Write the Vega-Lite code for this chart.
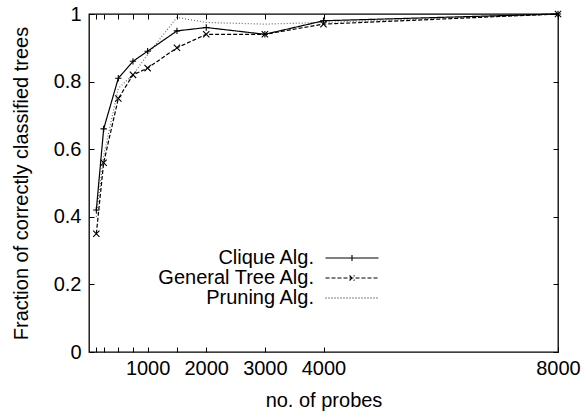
{
  "$schema": "https://vega.github.io/schema/vega-lite/v6.json",
  "width": 469,
  "height": 338,
  "autosize": {"type": "none"},
  "padding": {"left": 89, "top": 14, "right": 24, "bottom": 65},
  "background": "white",
  "data": {
    "values": [
      {"series": "Clique Alg.", "probes": 125, "frac": 0.42},
      {"series": "Clique Alg.", "probes": 250, "frac": 0.66},
      {"series": "Clique Alg.", "probes": 500, "frac": 0.81},
      {"series": "Clique Alg.", "probes": 750, "frac": 0.86},
      {"series": "Clique Alg.", "probes": 1000, "frac": 0.89},
      {"series": "Clique Alg.", "probes": 1500, "frac": 0.95},
      {"series": "Clique Alg.", "probes": 2000, "frac": 0.96},
      {"series": "Clique Alg.", "probes": 3000, "frac": 0.94},
      {"series": "Clique Alg.", "probes": 4000, "frac": 0.98},
      {"series": "Clique Alg.", "probes": 8000, "frac": 1.0},
      {"series": "General Tree Alg.", "probes": 125, "frac": 0.35},
      {"series": "General Tree Alg.", "probes": 250, "frac": 0.56},
      {"series": "General Tree Alg.", "probes": 500, "frac": 0.75},
      {"series": "General Tree Alg.", "probes": 750, "frac": 0.82},
      {"series": "General Tree Alg.", "probes": 1000, "frac": 0.84},
      {"series": "General Tree Alg.", "probes": 1500, "frac": 0.90},
      {"series": "General Tree Alg.", "probes": 2000, "frac": 0.94},
      {"series": "General Tree Alg.", "probes": 3000, "frac": 0.94},
      {"series": "General Tree Alg.", "probes": 4000, "frac": 0.97},
      {"series": "General Tree Alg.", "probes": 8000, "frac": 1.0},
      {"series": "Pruning Alg.", "probes": 125, "frac": 0.40},
      {"series": "Pruning Alg.", "probes": 250, "frac": 0.58},
      {"series": "Pruning Alg.", "probes": 500, "frac": 0.78},
      {"series": "Pruning Alg.", "probes": 750, "frac": 0.82},
      {"series": "Pruning Alg.", "probes": 1000, "frac": 0.88},
      {"series": "Pruning Alg.", "probes": 1500, "frac": 0.99},
      {"series": "Pruning Alg.", "probes": 2000, "frac": 0.975},
      {"series": "Pruning Alg.", "probes": 3000, "frac": 0.97},
      {"series": "Pruning Alg.", "probes": 4000, "frac": 0.975},
      {"series": "Pruning Alg.", "probes": 8000, "frac": 1.0}
    ]
  },
  "layer": [
    {
      "layer": [
        {
          "mark": {"type": "line", "strokeWidth": 1.2, "color": "black"},
          "encoding": {
            "x": {
              "field": "probes", "type": "quantitative",
              "scale": {"domain": [0, 8000], "nice": false},
              "axis": {
                "orient": "bottom",
                "values": [125, 250, 500, 750, 1000, 1500, 2000, 3000, 4000, 8000],
                "format": "d",
                "labelExpr": "(datum.value == 1000 || datum.value == 2000 || datum.value == 3000 || datum.value == 4000 || datum.value == 8000) ? datum.label : ''",
                "title": "no. of probes",
                "labelPadding": 11,
                "titlePadding": 12
              }
            },
            "y": {
              "field": "frac", "type": "quantitative",
              "scale": {"domain": [0, 1], "nice": false},
              "axis": {
                "orient": "left",
                "values": [0, 0.2, 0.4, 0.6, 0.8, 1],
                "format": "~g",
                "title": "Fraction of correctly classified trees",
                "labelPadding": 13,
                "titlePadding": 22
              }
            },
            "strokeDash": {
              "field": "series", "type": "nominal",
              "scale": {
                "domain": ["Clique Alg.", "General Tree Alg.", "Pruning Alg."],
                "range": [[1, 0], [4, 2], [1, 2]]
              },
              "legend": {
                "orient": "none",
                "legendX": 253,
                "legendY": 234,
                "title": null,
                "padding": 0,
                "labelAlign": "right",
                "labelOffset": -48,
                "labelFont": "Liberation Sans",
                "labelFontSize": 19.5,
                "labelColor": "black",
                "rowPadding": 0,
                "symbolSize": 100,
                "symbolStrokeWidth": 1.1,
                "symbolStrokeColor": "black",
                "encode": {
                  "labels": {"update": {"fontSize": {"value": 20}}},
                  "symbols": {
                    "update": {
                      "shape": {"signal": "datum.value == 'Clique Alg.' ? 'M-5.3,0H5.3M0,-0.6V0.6' : (datum.value == 'General Tree Alg.' ? 'M-5.3,0H5.3M-0.5,-0.5L0.5,0.5M-0.5,0.5L0.5,-0.5' : 'M-5.3,0H5.3')"}
                    }
                  }
                }
              }
            },
            "strokeOpacity": {
              "condition": {"test": "datum.series == 'Pruning Alg.'", "value": 0.6},
              "value": 1
            }
          }
        },
        {
          "transform": [{"filter": "datum.series != 'Pruning Alg.'"}],
          "mark": {"type": "point", "filled": false, "stroke": "black", "strokeWidth": 1.1, "size": 40, "opacity": 1},
          "encoding": {
            "x": {"field": "probes", "type": "quantitative", "scale": {"domain": [0, 8000], "nice": false}},
            "y": {"field": "frac", "type": "quantitative", "scale": {"domain": [0, 1], "nice": false}},
            "shape": {
              "field": "series", "type": "nominal",
              "scale": {
                "domain": ["Clique Alg.", "General Tree Alg."],
                "range": ["M-1,0H1M0,-1V1", "M-1,-1L1,1M-1,1L1,-1"]
              },
              "legend": null
            }
          }
        }
      ]
    },
    {
      "mark": {"type": "point", "opacity": 0},
      "encoding": {
        "x": {
          "field": "probes", "type": "quantitative",
          "scale": {"domain": [0, 8000], "nice": false},
          "axis": {"orient": "top", "values": [125, 250, 500, 750, 1000, 1500, 2000, 3000, 4000, 8000], "labels": false, "title": null}
        },
        "y": {
          "field": "frac", "type": "quantitative",
          "scale": {"domain": [0, 1], "nice": false},
          "axis": {"orient": "right", "values": [0, 0.2, 0.4, 0.6, 0.8, 1], "labels": false, "title": null}
        }
      }
    }
  ],
  "resolve": {"axis": {"x": "independent", "y": "independent"}},
  "config": {
    "view": {"stroke": "black", "strokeWidth": 1.3},
    "axis": {
      "labelFont": "Liberation Sans",
      "titleFont": "Liberation Sans",
      "labelFontSize": 20,
      "titleFontSize": 20,
      "titleFontWeight": "normal",
      "labelColor": "black",
      "titleColor": "black",
      "tickColor": "black",
      "tickWidth": 1,
      "tickSize": -5,
      "domain": false,
      "grid": false,
      "labelFlush": false,
      "labelOverlap": false,
      "labelBound": false
    }
  }
}
